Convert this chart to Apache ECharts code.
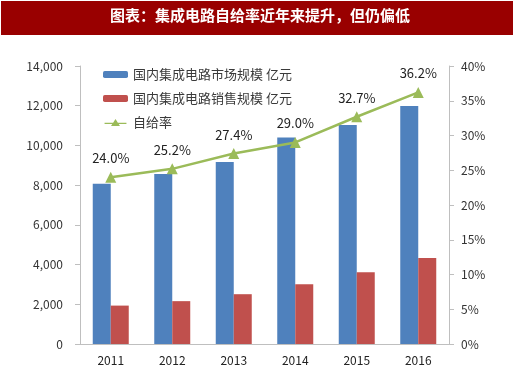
<!DOCTYPE html>
<html><head><meta charset="utf-8">
<script src="https://cdn.jsdelivr.net/npm/echarts@6/dist/echarts.min.js"></script>
<style>html,body{margin:0;padding:0;background:#fff}#c{width:520px;height:390px}</style>
</head><body><div id="c"></div>
<script>
const years = ['2011','2012','2013','2014','2015','2016'];
const marketSize = [8066, 8559, 9166, 10393, 11024, 11986];
const salesSize = [1934, 2158, 2508, 3015, 3609, 4336];
const selfRate = [24.0, 25.2, 27.4, 29.0, 32.7, 36.2];
const leftTicks = [0, 2000, 4000, 6000, 8000, 10000, 12000, 14000];
const rightTicks = [0, 5, 10, 15, 20, 25, 30, 35, 40];

const chart = echarts.init(document.getElementById('c'));
const font = '"Noto Sans CJK SC","Noto Sans",sans-serif';
chart.setOption({
  animation: false,
  backgroundColor: '#fff',
  textStyle: {fontFamily: font},
  graphic: [
    {type: 'rect', shape: {x: 1, y: 1, width: 512, height: 34}, style: {fill: '#990000'}},
    {type: 'text', left: 'center', top: 8, style: {text: '图表：集成电路自给率近年来提升，但仍偏低', fill: '#fff', font: 'bold 15px "Noto Sans CJK SC"'}}
  ],
  legend: {
    orient: 'vertical', left: 98, top: 63, itemWidth: 25, itemHeight: 7, itemGap: 11,
    textStyle: {fontSize: 13, color: '#3a3a3a', fontFamily: font},
    data: [
      {name: '国内集成电路市场规模 亿元'},
      {name: '国内集成电路销售规模 亿元'},
      {name: '自给率', icon: 'path://M0,4.2 L9.8,4.2 L12.5,0 L15.2,4.2 L25,4.2 L25,5.8 L16.2,5.8 L17.6,8 L7.4,8 L8.8,5.8 L0,5.8 Z', itemStyle: {color: '#9BBB59'}}
    ]
  },
  grid: {left: 80, right: 71, top: 66, bottom: 46},
  xAxis: {
    type: 'category', data: years,
    axisLine: {lineStyle: {color: '#bfbfbf'}},
    axisTick: {lineStyle: {color: '#bfbfbf'}, length: 5},
    axisLabel: {color: '#222', fontSize: 12, margin: 10}
  },
  yAxis: [
    {type: 'value', min: 0, max: 14000, interval: 2000,
     axisLine: {show: true, lineStyle: {color: '#bfbfbf'}},
     axisTick: {show: true, lineStyle: {color: '#bfbfbf'}, length: 5},
     splitLine: {show: false},
     axisLabel: {color: '#333', fontSize: 12, margin: 17,
       formatter: v => v.toLocaleString('en-US')}},
    {type: 'value', min: 0, max: 40, interval: 5, position: 'right',
     axisLine: {show: true, lineStyle: {color: '#bfbfbf'}},
     axisTick: {show: true, lineStyle: {color: '#bfbfbf'}, length: 5},
     splitLine: {show: false},
     axisLabel: {color: '#333', fontSize: 12, margin: 12, formatter: '{value}%'}}
  ],
  series: [
    {name: '国内集成电路市场规模 亿元', type: 'bar', data: marketSize, barWidth: 18, barGap: '0%',
     itemStyle: {color: '#4F81BD'}},
    {name: '国内集成电路销售规模 亿元', type: 'bar', data: salesSize, barWidth: 18,
     itemStyle: {color: '#C0504D'}},
    {name: '自给率', type: 'line', yAxisIndex: 1, data: selfRate,
     symbol: 'triangle', symbolSize: 11,
     lineStyle: {color: '#9BBB59', width: 2.5}, itemStyle: {color: '#9BBB59'},
     label: {show: true, position: 'top', distance: 7, color: '#222', fontSize: 13,
       formatter: p => p.value.toFixed(1) + '%'}}
  ]
});
</script></body></html>
